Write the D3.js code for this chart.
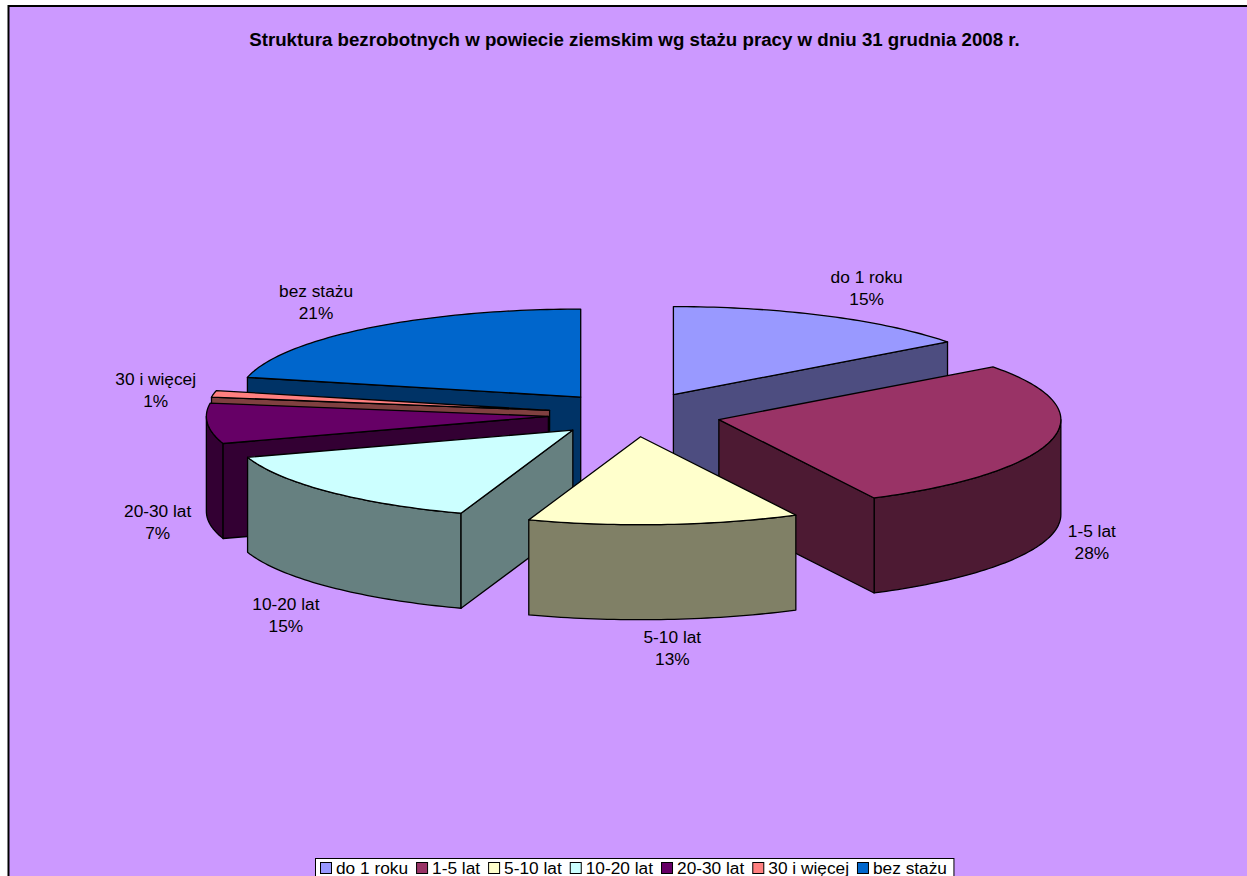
<!DOCTYPE html>
<html>
<head>
<meta charset="utf-8">
<script src="https://cdn.jsdelivr.net/npm/d3@7"></script>
<style>
html,body{margin:0;padding:0;background:#fff;overflow:hidden}
svg{display:block}
text{font-family:"Liberation Sans",Arial,sans-serif;fill:#000}
</style>
</head>
<body>
<svg id="chart" width="1247" height="876"></svg>
<script>
const titleText = "Struktura bezrobotnych w powiecie ziemskim wg stażu pracy w dniu 31 grudnia 2008 r.";
const categories = ["do 1 roku","1-5 lat","5-10 lat","10-20 lat","20-30 lat","30 i więcej","bez stażu"];
const shares = [14.8,27.7,12.8,14.7,7.4,1.2,21.4];
const percentLabels = ["15%","28%","13%","15%","7%","1%","21%"];
const topColors = ["#9999FF","#993366","#FFFFCC","#CCFFFF","#660066","#FF8080","#0066CC"];
const sideColors = ["#4D4D80","#4D1A33","#808066","#668080","#330033","#804040","#003366"];
// per-slice label distance from the slice tip, horizontal and vertical
const labelReachX = [431,383,460,402,392,401,425];
const labelReachY = [120,120,116,127,130,110,122];

const W = 1247, H = 876;
const cx = 634.6, cy = 414.5, R = 342, Ry = 88, depth = 95;
const explode = 0.253;

const svg = d3.select("#chart");
svg.append("rect").attr("x",8.5).attr("y",6).attr("width",W+20).attr("height",H+20)
  .attr("fill","#CC99FF").attr("stroke","#000").attr("stroke-width",2);

svg.append("text").attr("x",634.5).attr("y",45.5).attr("text-anchor","middle")
  .attr("font-size",18.7).attr("font-weight","bold").text(titleText);

const xS = d3.scaleLinear().domain([-1,1]).range([cx-R,cx+R]);
const yS = d3.scaleLinear().domain([-1,1]).range([cy-Ry,cy+Ry]);
const zS = d3.scaleLinear().domain([0,1]).range([0,depth]);

const pie = d3.pie().sort(null).value(d=>d).startAngle(0).endAngle(2*Math.PI);
const arcs = pie(shares).map((a,i)=>{
  const mid=(a.startAngle+a.endAngle)/2;
  return {i,start:a.startAngle,end:a.endAngle,mid,
    ox:explode*Math.sin(mid), oy:-explode*Math.cos(mid)};
});

const line = d3.line().x(d=>d[0]).y(d=>d[1]);
const tip = (s,z=0)=>[xS(s.ox),yS(s.oy)+zS(z)];
const rim = (s,a,z=0)=>[xS(s.ox+Math.sin(a)),yS(s.oy-Math.cos(a))+zS(z)];
const angles=(a0,a1)=>{
  const n=Math.max(2,Math.ceil((a1-a0)/0.02));
  return d3.range(n+1).map(j=>a0+(a1-a0)*j/n);
};

const faces = svg.append("g").attr("stroke","#000").attr("stroke-width",1.3).attr("stroke-linejoin","round");
const paint=(pts,fill)=>faces.append("path").attr("d",line(pts)+"Z").attr("fill",fill);

// back slices first
arcs.slice().sort((a,b)=>yS(a.oy)-yS(b.oy)).forEach(s=>{
  const side=sideColors[s.i], top=topColors[s.i];
  // outer wall: only the part turned to the viewer
  const a0=Math.max(s.start,Math.PI/2), a1=Math.min(s.end,Math.PI*1.5);
  if(a1>a0){
    const as=angles(a0,a1);
    paint(as.map(a=>rim(s,a,0)).concat(as.slice().reverse().map(a=>rim(s,a,1))),side);
  }
  // cut faces
  if(Math.sin(s.start)<-1e-6) paint([tip(s,0),rim(s,s.start,0),rim(s,s.start,1),tip(s,1)],side);
  if(Math.sin(s.end)>1e-6) paint([tip(s,0),rim(s,s.end,0),rim(s,s.end,1),tip(s,1)],side);
  // top face
  paint([tip(s)].concat(angles(s.start,s.end).map(a=>rim(s,a))),top);
});

// data labels
const labels=svg.append("g").attr("text-anchor","middle").attr("font-size",17.3);
arcs.forEach(s=>{
  const c=Math.cos(s.mid);
  const x=xS(s.ox)+labelReachX[s.i]*Math.sin(s.mid);
  const y=yS(s.oy)-labelReachY[s.i]*c+(c<0?depth:0);
  labels.append("text").attr("x",x).attr("y",y-4.5).text(categories[s.i]);
  labels.append("text").attr("x",x).attr("y",y+17.5).text(percentLabels[s.i]);
});

// legend, laid out in reading order
const legX=315.5, legY=858.5;
const leg=svg.append("g");
const legBox=leg.append("rect").attr("x",legX).attr("y",legY).attr("height",40)
  .attr("fill","#fff").attr("stroke","#000").attr("stroke-width",1);
let px=legX+5;
categories.forEach((c,i)=>{
  leg.append("rect").attr("x",px).attr("y",862.5).attr("width",11).attr("height",11)
    .attr("fill",topColors[i]).attr("stroke","#000").attr("stroke-width",1);
  const t=leg.append("text").attr("x",px+15.5).attr("y",873.5).attr("font-size",17.3).text(c);
  px+=15.5+t.node().getComputedTextLength()+8.5;
});
legBox.attr("width",px-8.5+7-legX);
</script>
</body>
</html>
